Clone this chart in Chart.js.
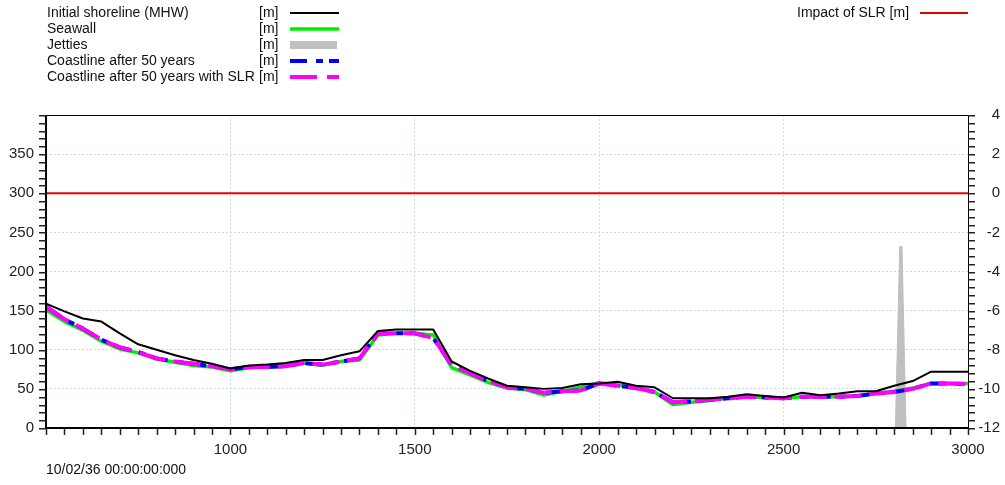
<!DOCTYPE html>
<html><head><meta charset="utf-8">
<script src="https://cdn.jsdelivr.net/npm/chart.js@4.4.1/dist/chart.umd.min.js"></script>
<style>html,body{margin:0;padding:0;background:#fff;overflow:hidden}#wrap{width:1005px;height:485px;position:relative}</style>
</head><body><div id="wrap"><canvas id="c" width="1005" height="485"></canvas></div>
<script>
// ---- data ----
const stations = [500,550,600,650,700,750,800,850,900,950,1000,1050,1100,1150,1200,1250,1300,1350,1400,1450,1500,1550,1600,1650,1700,1750,1800,1850,1900,1950,2000,2050,2100,2150,2200,2250,2300,2350,2400,2450,2500,2550,2600,2650,2700,2750,2800,2850,2900,2950,3000];
const initialShoreline = [159,149,140,136,121,107,100,93,87,82,76,80,81,83,87,87,93,98,124,126,126,126,85,73,63,54,52,50,51,56,57,59,54,52,38,38,38,40,43,41,39,45,42,44,47,47,54,60,72,72,72];
const seawall = [151,136,125,111,101,96,88,84,80,78,73,77,78,80,83,80,85,87,119,121,121,119,77,68,58,51,49,42,47,52,58,55,52,46,30,33,35,39,40,39,38,40,40,40,41,44,47,51,57,57,57];
const coastline50 = [155,139,127,113,103,97,89,85,82,79,75,78,78,79,83,81,85,89,121,121,121,115,81,70,60,52,50,45,47,48,57,54,51,46,33,34,36,38,40,39,38,40,40,40,41,44,46,50,57,57,56];
const coastline50SLR = [155,139,127,113,103,97,89,85,82,79,75,78,78,79,83,81,85,89,121,121,121,115,81,70,60,52,50,45,47,48,57,54,51,46,33,34,36,38,40,39,38,40,40,40,41,44,46,50,57,57,56];
const jettyX = [2803,2815,2821,2832];
const jettyY = [0,232,232,0];
const slrX = [500,3000];
const slrImpact = [0,0];
const xTickValues = [1000,1500,2000,2500,3000];
const yLeftTickValues = [0,50,100,150,200,250,300,350];
const yRightTickValues = [-12,-10,-8,-6,-4,-2,0,2,4];
const legendLabels = ['Initial shoreline (MHW)','Seawall','Jetties','Coastline after 50 years','Coastline after 50 years with SLR'];
const rightLegendLabel = 'Impact of SLR [m]';
const unitLabel = '[m]';
const dateLabel = '10/02/36 00:00:00:000';

// ---- build ----
const FONT = "'Liberation Sans', Arial, sans-serif";
const pts = (xs, ys) => xs.map((x, i) => ({x: x, y: ys[i]}));
const COL = {black:'#000000', green:'#00ee00', gray:'#c0c0c0', blue:'#0000ff', magenta:'#ff00ff', red:'#e80000', grid:'#c9dcf4'};
const DASH_BLUE = [17,9,7,6];
const DASH_MAG = [27,8];

const overlay = {
  id: 'overlay',
  afterDraw(chart) {
    const ctx = chart.ctx;
    const a = chart.chartArea;
    const xs = chart.scales.x, yl = chart.scales.y, yr = chart.scales.y2;
    ctx.save();
    const L = Math.round(a.left), R = Math.round(a.right), T = Math.round(a.top), B = Math.round(a.bottom);
    // frame
    ctx.fillStyle = '#000';
    ctx.fillRect(L, T, R - L + 1, 1);          // top
    ctx.fillRect(R, T, 1, B - T + 1);          // right
    ctx.fillRect(L - 1, T, 2, B - T + 1);      // left
    ctx.fillRect(L - 1, B - 1, R - L + 2, 2);  // bottom
    // minor ticks
    ctx.fillStyle = '#222';
    for (let v = 0; v <= 400; v += 10) {
      const y = Math.round(yl.getPixelForValue(v));
      ctx.fillRect(L - 7, y, 7, 1.5);
    }
    for (let v = 500; v <= 3000; v += 50) {
      const x = Math.round(xs.getPixelForValue(v));
      ctx.fillRect(x - 0.25, B, 1.5, 7);
    }
    for (let k = 0; k <= 40; k++) {
      const v = -12 + k * 0.4;
      const y = Math.round(yr.getPixelForValue(v));
      ctx.fillRect(R, y, 7, 1.5);
    }
    // legend
    ctx.font = '14px ' + FONT;
    ctx.fillStyle = '#111';
    ctx.textBaseline = 'middle';
    ctx.textAlign = 'left';
    const rowY = [13, 29, 45, 61, 77];
    for (let i = 0; i < legendLabels.length; i++) {
      ctx.fillText(legendLabels[i], 47, rowY[i]);
      ctx.fillText(unitLabel, 259, rowY[i]);
    }
    const x0 = 290, x1 = 339;
    const seg = (y, color, w, dash) => {
      ctx.beginPath(); ctx.setLineDash(dash || []); ctx.lineDashOffset = 0;
      ctx.strokeStyle = color; ctx.lineWidth = w; ctx.lineCap = 'butt';
      ctx.moveTo(x0, y); ctx.lineTo(x1, y); ctx.stroke(); ctx.setLineDash([]);
    };
    seg(rowY[0], COL.black, 2);
    seg(rowY[1], COL.green, 3.5);
    ctx.fillStyle = COL.gray; ctx.fillRect(x0, rowY[2] - 4, x1 - x0 - 2, 8);
    seg(rowY[3], COL.blue, 4, DASH_BLUE);
    seg(rowY[4], COL.magenta, 4, [27,10]);
    ctx.fillStyle = '#111';
    ctx.fillText(rightLegendLabel, 797, 13);
    ctx.beginPath(); ctx.strokeStyle = COL.red; ctx.lineWidth = 2;
    ctx.moveTo(920, 13); ctx.lineTo(968, 13); ctx.stroke();
    // date
    ctx.fillStyle = '#111';
    ctx.font = '14px ' + FONT;
    ctx.fillText(dateLabel, 46, 470);
    ctx.restore();
  }
};

const setTicks = (vals) => (s) => { s.ticks = vals.map(v => ({value: v})); };
const plain = (v) => String(v);

new Chart(document.getElementById('c'), {
  type: 'line',
  data: {
    datasets: [
      {label: legendLabels[0], data: pts(stations, initialShoreline), borderColor: COL.black, borderWidth: 2, yAxisID: 'y', order: 0},
      {label: legendLabels[4], data: pts(stations, coastline50SLR), borderColor: COL.magenta, borderWidth: 4, borderDash: DASH_MAG, yAxisID: 'y', order: 1},
      {label: legendLabels[3], data: pts(stations, coastline50), borderColor: COL.blue, borderWidth: 4, borderDash: DASH_BLUE, yAxisID: 'y', order: 2},
      {label: legendLabels[1], data: pts(stations, seawall), borderColor: COL.green, borderWidth: 3.5, yAxisID: 'y', order: 3},
      {label: legendLabels[2], data: pts(jettyX, jettyY), borderColor: COL.gray, backgroundColor: COL.gray, borderWidth: 1, fill: 'origin', yAxisID: 'y', order: 4},
      {label: rightLegendLabel, data: pts(slrX, slrImpact), borderColor: COL.red, borderWidth: 2, yAxisID: 'y2', order: 5}
    ]
  },
  options: {
    responsive: false, animation: false, devicePixelRatio: 1,
    layout: {padding: {top: 115, left: 0, right: 5, bottom: 0}},
    plugins: {legend: {display: false}, tooltip: {enabled: false}},
    elements: {point: {radius: 0, hoverRadius: 0}, line: {tension: 0, borderCapStyle: 'butt', borderJoinStyle: 'round'}},
    scales: {
      x: {
        type: 'linear', min: 500, max: 3000,
        afterBuildTicks: setTicks(xTickValues),
        afterFit: (s) => { s.height = 57; },
        grid: {color: COL.grid, lineWidth: 1, drawTicks: false},
        border: {display: false, dash: [2, 2]},
        ticks: {font: {family: FONT, size: 15}, color: '#222', padding: 13, maxRotation: 0, autoSkip: false, callback: plain}
      },
      y: {
        position: 'left', min: 0, max: 400,
        afterBuildTicks: setTicks(yLeftTickValues),
        afterFit: (s) => { s.width = 46; },
        grid: {color: COL.grid, lineWidth: 1, drawTicks: false},
        border: {display: false, dash: [2, 2]},
        ticks: {font: {family: FONT, size: 15}, color: '#222', padding: 12, autoSkip: false, callback: plain}
      },
      y2: {
        position: 'right', min: -12, max: 4,
        afterBuildTicks: setTicks(yRightTickValues),
        afterFit: (s) => { s.width = 32; },
        grid: {display: false, drawTicks: false},
        border: {display: false},
        ticks: {font: {family: FONT, size: 15}, color: '#222', padding: 8, crossAlign: 'far', autoSkip: false, callback: plain}
      }
    }
  },
  plugins: [overlay]
});
</script>
</body></html>
